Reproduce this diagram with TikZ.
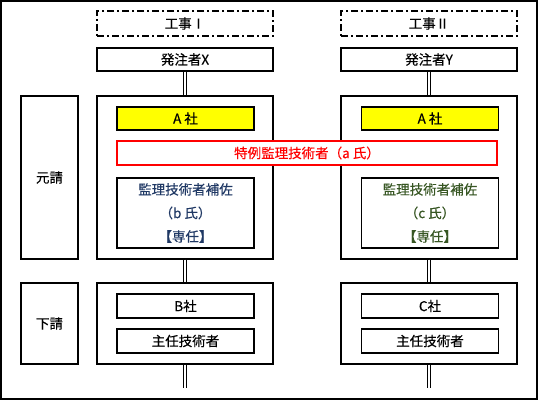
\documentclass[tikz,border=0pt]{standalone}
\usepackage{fontspec}
\setmainfont{Noto Sans CJK JP}[FakeBold=0.35]
\usetikzlibrary{positioning}

\definecolor{hosablue}{HTML}{1F3864}
\definecolor{hosagreen}{HTML}{375623}
\definecolor{markyellow}{HTML}{FFFF00}

\tikzset{
    box/.style={draw, line width=1.1pt, fill=white, inner sep=0pt, font=\fontsize{13.5}{15}\selectfont},
    projbox/.style={box, line width=1.8pt, dash pattern=on 7pt off 3pt on 2pt off 3pt},
    redbox/.style={box, draw=red, line width=1.8pt, text=red},
    hosabox/.style={box, align=center, font=\fontsize{13.5}{23.5}\selectfont},
    dbl/.style={draw, line width=0.9pt, double distance=2pt}
}

\begin{document}
\begin{tikzpicture}[x=1pt, y=-1pt]
    \useasboundingbox (0,0) rectangle (539,401);
    \draw[line width=1.4pt] (1,1) rectangle (537,399);

    % Role labels
    \node[box, minimum width=57pt, minimum height=163pt] (moto) at (49.5,177.5) {元請};
    \node[box, minimum width=57pt, minimum height=81pt] (shita) at (49.5,323.5) {下請};

    % Project I
    \node[projbox, minimum width=176pt, minimum height=25pt] (projX) at (185,23.5) {工事Ⅰ};
    \node[box, minimum width=176pt, minimum height=23pt] (hatX) at (185,59.5) {発注者X};
    \node[box, minimum width=176pt, minimum height=163pt] (mainX) at (185,177.5) {};
    \node[box, fill=markyellow, minimum width=137pt, minimum height=23pt] (aX) at (185.5,118.5) {A 社};
    \node[hosabox, text=hosablue, minimum width=137pt, minimum height=70pt] (hosaX) at (185.5,213) {監理技術者補佐\\（b 氏）\\【専任】};
    \node[box, minimum width=176pt, minimum height=81pt] (lowX) at (185,323.5) {};
    \node[box, minimum width=137pt, minimum height=24pt] (subX) at (185.5,306) {B社};
    \node[box, minimum width=137pt, minimum height=24pt] (chiefX) at (185.5,341) {主任技術者};
    \coordinate (endX) at (185,388);

    % Project II
    \node[projbox, minimum width=176pt, minimum height=25pt] (projY) at (429,23.5) {工事Ⅱ};
    \node[box, minimum width=176pt, minimum height=23pt] (hatY) at (429,59.5) {発注者Y};
    \node[box, minimum width=176pt, minimum height=163pt] (mainY) at (429,177.5) {};
    \node[box, fill=markyellow, minimum width=137pt, minimum height=23pt] (aY) at (430,118.5) {A 社};
    \node[hosabox, text=hosagreen, minimum width=137pt, minimum height=70pt] (hosaY) at (430,213) {監理技術者補佐\\（c 氏）\\【専任】};
    \node[box, minimum width=176pt, minimum height=81pt] (lowY) at (429,323.5) {};
    \node[box, minimum width=137pt, minimum height=24pt] (subY) at (430,306) {C社};
    \node[box, minimum width=137pt, minimum height=24pt] (chiefY) at (430,341) {主任技術者};
    \coordinate (endY) at (429,388);

    % Shared engineer across both projects
    \node[redbox, minimum width=380pt, minimum height=24pt] (tokurei) at (307,153) {特例監理技術者（a 氏）};

    % Double links
    \draw[dbl] (hatX) -- (mainX);
    \draw[dbl] (mainX) -- (lowX);
    \draw[dbl] (lowX) -- (endX);
    \draw[dbl] (hatY) -- (mainY);
    \draw[dbl] (mainY) -- (lowY);
    \draw[dbl] (lowY) -- (endY);
\end{tikzpicture}
\end{document}
